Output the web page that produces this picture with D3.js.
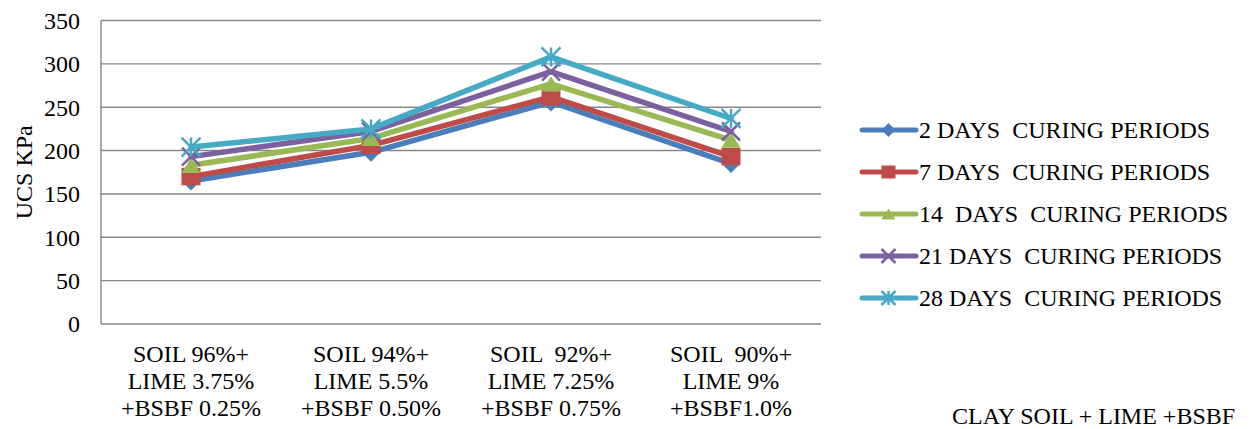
<!DOCTYPE html>
<html>
<head>
<meta charset="utf-8">
<script src="https://cdn.jsdelivr.net/npm/d3@7"></script>
<style>
  html, body { margin: 0; padding: 0; background: #ffffff; }
  svg text { white-space: pre; }
</style>
</head>
<body>
<svg id="chart" width="1252" height="429"></svg>
<script>
// Mix designs along the x axis (each label is three lines)
const categories = [
  ["SOIL 96%+", "LIME 3.75%", "+BSBF 0.25%"],
  ["SOIL 94%+", "LIME 5.5%", "+BSBF 0.50%"],
  ["SOIL  92%+", "LIME 7.25%", "+BSBF 0.75%"],
  ["SOIL  90%+", "LIME 9%", "+BSBF1.0%"]
];

// Unconfined compressive strength (kPa) per curing period
const days2  = [165, 198, 256, 185];
const days7  = [170, 206, 262, 193];
const days14 = [183, 214, 277, 212];
const days21 = [193, 222, 291, 222];
const days28 = [204, 225, 308, 237];

const seriesNames = [
  "2 DAYS  CURING PERIODS",
  "7 DAYS  CURING PERIODS",
  "14  DAYS  CURING PERIODS",
  "21 DAYS  CURING PERIODS",
  "28 DAYS  CURING PERIODS"
];

const yTicks = [0, 50, 100, 150, 200, 250, 300, 350];

const series = [
  { name: seriesNames[0], values: days2,  color: "#4a7ebb", marker: "diamond" },
  { name: seriesNames[1], values: days7,  color: "#be4b48", marker: "square" },
  { name: seriesNames[2], values: days14, color: "#98b954", marker: "triangle" },
  { name: seriesNames[3], values: days21, color: "#7d60a0", marker: "x" },
  { name: seriesNames[4], values: days28, color: "#46aac5", marker: "star" }
];

const svg = d3.select("#chart");
const plot = { left: 101, right: 821, top: 20.5, bottom: 324 };
const fontSize = "24px";
const serif = "'Liberation Serif', 'Times New Roman', serif";
const gridColor = "#878787";

const x = d3.scaleBand()
  .domain(d3.range(categories.length))
  .range([plot.left, plot.right]);
const y = d3.scaleLinear()
  .domain([0, 350])
  .range([plot.bottom, plot.top]);

function label(sel) {
  return sel.style("font-family", serif).style("font-size", fontSize).attr("fill", "#000");
}

// Horizontal gridlines
svg.append("g")
  .selectAll("line")
  .data(yTicks)
  .join("line")
  .attr("x1", plot.left).attr("x2", plot.right)
  .attr("y1", d => y(d)).attr("y2", d => y(d))
  .attr("stroke", gridColor).attr("stroke-width", 1.4);

// Vertical axis line
svg.append("line")
  .attr("x1", plot.left).attr("x2", plot.left)
  .attr("y1", y(350)).attr("y2", y(0))
  .attr("stroke", gridColor).attr("stroke-width", 1.4);

// Y tick labels
svg.append("g")
  .selectAll("text")
  .data(yTicks)
  .join("text")
  .attr("x", 80)
  .attr("y", d => y(d))
  .attr("dy", "0.35em")
  .attr("text-anchor", "end")
  .call(label)
  .text(d => d);

// Y axis title
svg.append("text")
  .attr("transform", `translate(32, ${(plot.top + plot.bottom) / 2}) rotate(-90)`)
  .attr("text-anchor", "middle")
  .call(label)
  .text("UCS KPa");

// Category labels
const catG = svg.append("g");
categories.forEach((lines, i) => {
  const t = catG.append("text")
    .attr("text-anchor", "middle")
    .call(label);
  lines.forEach((ln, j) => {
    t.append("tspan")
      .attr("x", x(i) + x.bandwidth() / 2)
      .attr("y", 361.5 + j * 27.3)
      .text(ln);
  });
});

// Axis caption at bottom right
svg.append("text")
  .attr("x", 952).attr("y", 424)
  .call(label)
  .text("CLAY SOIL + LIME +BSBF");

// Marker drawing helper
function drawMarker(g, type, cx, cy, s, color) {
  const h = s / 2;
  if (type === "diamond") {
    g.append("path")
      .attr("d", `M${cx},${cy - h}L${cx + h},${cy}L${cx},${cy + h}L${cx - h},${cy}Z`)
      .attr("fill", color);
  } else if (type === "square") {
    g.append("rect")
      .attr("x", cx - h).attr("y", cy - h * 0.92)
      .attr("width", s).attr("height", s * 0.92)
      .attr("fill", color);
  } else if (type === "triangle") {
    const th = s * 0.8;
    g.append("path")
      .attr("d", `M${cx},${cy - th / 2}L${cx + h},${cy + th / 2}L${cx - h},${cy + th / 2}Z`)
      .attr("fill", color);
  } else if (type === "x") {
    g.append("path")
      .attr("d", `M${cx - h},${cy - h}L${cx + h},${cy + h}M${cx + h},${cy - h}L${cx - h},${cy + h}`)
      .attr("stroke", color).attr("stroke-width", 2.5).attr("fill", "none");
  } else if (type === "star") {
    g.append("path")
      .attr("d", `M${cx - h},${cy - h}L${cx + h},${cy + h}M${cx + h},${cy - h}L${cx - h},${cy + h}M${cx},${cy - h}L${cx},${cy + h}`)
      .attr("stroke", color).attr("stroke-width", 2.5).attr("fill", "none");
  }
}

const markerSize = { diamond: 19, square: 19, triangle: 19, x: 18, star: 19 };

// Series lines and markers
const line = d3.line()
  .x((d, i) => x(i) + x.bandwidth() / 2)
  .y(d => y(d));

series.forEach(s => {
  const g = svg.append("g");
  g.append("path")
    .datum(s.values)
    .attr("d", line)
    .attr("fill", "none")
    .attr("stroke", s.color)
    .attr("stroke-width", 5.5)
    .attr("stroke-linejoin", "round")
    .attr("stroke-linecap", "round");
  s.values.forEach((v, i) => {
    drawMarker(g, s.marker, x(i) + x.bandwidth() / 2, y(v), markerSize[s.marker], s.color);
  });
});

// Legend
const legend = svg.append("g");
series.forEach((s, i) => {
  const cy = 130 + i * 42;
  const g = legend.append("g");
  g.append("line")
    .attr("x1", 862).attr("x2", 916)
    .attr("y1", cy).attr("y2", cy)
    .attr("stroke", s.color).attr("stroke-width", 5)
    .attr("stroke-linecap", "round");
  drawMarker(g, s.marker, 888.5, cy, 14, s.color);
  g.append("text")
    .attr("x", 919).attr("y", cy)
    .attr("dy", "0.35em")
    .call(label)
    .text(s.name);
});
</script>
</body>
</html>
